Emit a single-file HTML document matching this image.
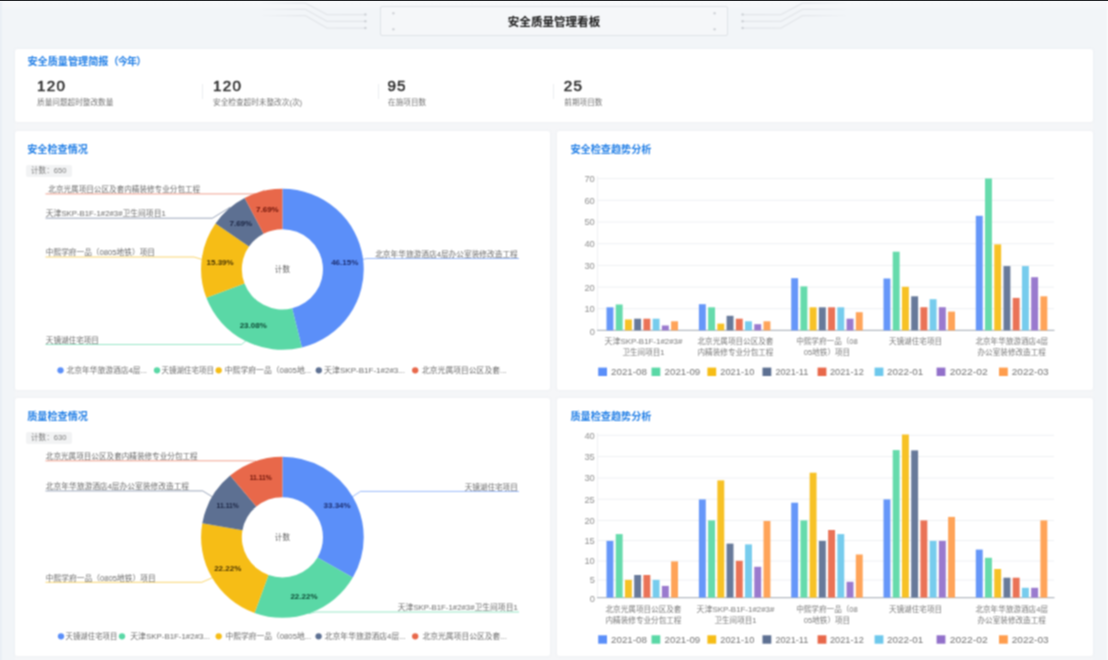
<!DOCTYPE html>
<html lang="zh-CN"><head><meta charset="utf-8"><title>安全质量管理看板</title>
<style>
*{box-sizing:border-box;margin:0;padding:0}
html,body{width:1108px;height:660px;overflow:hidden}
body{position:relative;background:#f2f5f8;font-family:"Liberation Sans", "Noto Sans CJK SC", sans-serif;color:#262626}
.soft{position:absolute;left:0;top:0;width:1108px;height:660px;background:#f2f5f8;overflow:hidden;filter:url(#soften)}
.hdr{position:absolute;left:0;top:0;width:1108px;height:48px;background:linear-gradient(#f6f8fa 0,#f5f7f9 7px,#f2f5f8 9px)}
.topbar{position:absolute;left:0;top:0;width:1108px;height:2.4px;background:linear-gradient(#1f2123 0,#2a2c2f .95px,#f7f8fa 1.5px,#f7f8fa 2.4px)}
.edge-l{position:absolute;left:0;top:2px;width:1.5px;height:658px;background:#eaeff5}
.edge-r{position:absolute;left:1106.6px;top:2px;width:1.4px;height:658px;background:#fafbfc}
.titlebox{position:absolute;left:379.6px;top:5.6px;width:348.8px;height:30.4px;border:1.3px solid #dfe3e7;border-radius:2px;background:#f5f7f9}
.title{position:absolute;left:380px;top:6px;width:348px;height:30px;line-height:32.4px;text-align:center;font-size:11.55px;font-weight:700;color:#1a1a1a}
.wrap{position:absolute;left:14.5px;top:52px;width:1078.5px;height:608px;background:#f5f6f8}
.card{position:absolute;background:#fff;border-radius:2.5px;box-shadow:0 0 2.5px rgba(190,198,210,.22)}
.h{position:absolute;font-size:10.15px;font-weight:700;color:#227fe6;line-height:12px;white-space:nowrap}
.num{position:absolute;font-size:15.2px;font-weight:400;-webkit-text-stroke:.5px #2b2b2b;color:#2b2b2b;line-height:16px;letter-spacing:1.25px;white-space:nowrap}
.lab{position:absolute;font-size:7.65px;color:#757575;line-height:10px;white-space:nowrap}
.div{position:absolute;width:1px;height:15px;top:84px;background:#ebedf0}
.badge{position:absolute;height:12px;line-height:12px;padding:0 0 0 4.6px;width:46px;background:#f2f3f4;border-radius:2px;font-size:7.6px;color:#7d7d7d;white-space:nowrap}
svg{position:absolute;left:0;top:0}
svg text{font-family:"Liberation Sans", "Noto Sans CJK SC", sans-serif}
</style></head><body>
<svg width="0" height="0" style="position:absolute"><defs><filter id="soften" x="0" y="0" width="100%" height="100%" color-interpolation-filters="sRGB"><feConvolveMatrix order="3" kernelMatrix="1 2.0 1 2.0 4.0 2.0 1 2.0 1" edgeMode="duplicate" preserveAlpha="false"/></filter></defs></svg>
<div class="soft">
<div class="hdr"></div><div class="edge-l"></div><div class="edge-r"></div>
<div class="titlebox"></div><div class="title">安全质量管理看板</div>

<div class="wrap"></div>
<div class="card" style="left:14.5px;top:49px;width:1078.5px;height:73px"></div>
<div class="h" style="left:27.4px;top:56px">安全质量管理简报<span style="letter-spacing:-0.85px">（今年）</span></div>
<div class="num" style="left:37px;top:78.4px">120</div><div class="lab" style="left:37px;top:98px">质量问题超时整改数量</div>
<div class="div" style="left:202px"></div>
<div class="num" style="left:213px;top:78.4px">120</div><div class="lab" style="left:213px;top:98px">安全检查超时未整改次(次)</div>
<div class="div" style="left:377.5px"></div>
<div class="num" style="left:387.4px;top:78.4px">95</div><div class="lab" style="left:388px;top:98px">在施项目数</div>
<div class="div" style="left:552.6px"></div>
<div class="num" style="left:563.8px;top:78.4px">25</div><div class="lab" style="left:564.3px;top:98px">前期项目数</div>

<div class="card" style="left:14.5px;top:131px;width:535px;height:259px"></div>
<div class="card" style="left:557px;top:131px;width:536px;height:259px"></div>
<div class="card" style="left:14.5px;top:398px;width:535px;height:258px"></div>
<div class="card" style="left:557px;top:398px;width:536px;height:258px"></div>

<div class="h" style="left:27.2px;top:143.5px">安全检查情况</div>
<div class="badge" style="left:26.4px;top:164.8px">计数：650</div>
<div class="h" style="left:570.4px;top:144.4px">安全检查趋势分析</div>
<div class="h" style="left:27.2px;top:410.5px">质量检查情况</div>
<div class="badge" style="left:26.4px;top:431.8px">计数：630</div>
<div class="h" style="left:570.4px;top:411px">质量检查趋势分析</div>

<svg width="1108" height="660" viewBox="0 0 1108 660">
<path d="M361.3 259.7L367.0 258.5H519" fill="none" stroke="#5b8ff9" stroke-width="1" opacity="0.62"/>
<path d="M45.5 344.5H241.5L246.3 340.5" fill="none" stroke="#5ad8a6" stroke-width="1" opacity="0.62"/>
<path d="M45.5 257H194.0L203.5 259.9" fill="none" stroke="#f6bd16" stroke-width="1" opacity="0.62"/>
<path d="M45.5 218.2H212.4L230.2 207.2" fill="none" stroke="#5d7092" stroke-width="1" opacity="0.62"/>
<path d="M45.5 193.9H257.0L264.5 190.2" fill="none" stroke="#e8684a" stroke-width="1" opacity="0.62"/>
<g transform="translate(282.4 269.3) scale(1.004 0.994) translate(-282.4 -269.3)"><path d="M282.40 188.30A81 81 0 0 1 301.80 347.94L292.08 308.52A40.4 40.4 0 0 0 282.40 228.90Z" fill="#5b8ff9"/>
<path d="M301.80 347.94A81 81 0 0 1 206.67 298.03L244.63 283.63A40.4 40.4 0 0 0 292.08 308.52Z" fill="#5ad8a6"/>
<path d="M206.67 298.03A81 81 0 0 1 215.75 223.27L249.16 246.34A40.4 40.4 0 0 0 244.63 283.63Z" fill="#f6bd16"/>
<path d="M215.75 223.27A81 81 0 0 1 244.77 197.57L263.63 233.52A40.4 40.4 0 0 0 249.16 246.34Z" fill="#5d7092"/>
<path d="M244.77 197.57A81 81 0 0 1 282.40 188.30L282.40 228.90A40.4 40.4 0 0 0 263.63 233.52Z" fill="#e8684a"/></g>
<text x="344.7" y="265.0" text-anchor="middle" font-size="8" font-weight="700" fill="#1c2f73">46.15%</text>
<text x="253.2" y="328.2" text-anchor="middle" font-size="8" font-weight="700" fill="#0c4a35">23.08%</text>
<text x="220.1" y="265.0" text-anchor="middle" font-size="8" font-weight="700" fill="#4a3503">15.39%</text>
<text x="240.8" y="225.6" text-anchor="middle" font-size="8" font-weight="700" fill="#1a2442">7.69%</text>
<text x="267.4" y="211.6" text-anchor="middle" font-size="8" font-weight="700" fill="#6e1409">7.69%</text>
<text x="282.4" y="272.1" text-anchor="middle" font-size="7.6" fill="#666">计数</text>
<text x="517.8" y="256.7" text-anchor="end" font-size="7.6" fill="#6a6a6a" textLength="142.6" lengthAdjust="spacingAndGlyphs">北京年华旅游酒店4层办公室装修改造工程</text>
<text x="45.8" y="342.7" font-size="7.6" fill="#6a6a6a">天镜湖住宅项目</text>
<text x="45.8" y="255.2" font-size="7.6" fill="#6a6a6a" textLength="109.2" lengthAdjust="spacingAndGlyphs">中熙学府一品（0805地铁）项目</text>
<text x="45.8" y="216.39999999999998" font-size="7.6" fill="#6a6a6a" textLength="120" lengthAdjust="spacingAndGlyphs">天津SKP-B1F-1#2#3#卫生间项目1</text>
<text x="48.3" y="192.1" font-size="7.6" fill="#6a6a6a">北京光属项目公区及套内精装修专业分包工程</text>
<circle cx="60.5" cy="370.3" r="3.15" fill="#5b8ff9"/>
<text x="66.4" y="373.1" font-size="7.6" fill="#6a6a6a" textLength="80.6" lengthAdjust="spacingAndGlyphs">北京年华旅游酒店4层...</text>
<circle cx="157" cy="370.3" r="3.15" fill="#5ad8a6"/>
<text x="161.5" y="373.1" font-size="7.6" fill="#6a6a6a" textLength="52.5" lengthAdjust="spacingAndGlyphs">天镜湖住宅项目</text>
<circle cx="218.7" cy="370.3" r="3.15" fill="#f6bd16"/>
<text x="224.8" y="373.1" font-size="7.6" fill="#6a6a6a" textLength="86.5" lengthAdjust="spacingAndGlyphs">中熙学府一品（0805地...</text>
<circle cx="318.8" cy="370.3" r="3.15" fill="#5d7092"/>
<text x="324" y="373.1" font-size="7.6" fill="#6a6a6a" textLength="81" lengthAdjust="spacingAndGlyphs">天津SKP-B1F-1#2#3...</text>
<circle cx="415.2" cy="370.3" r="3.15" fill="#e8684a"/>
<text x="422" y="373.1" font-size="7.6" fill="#6a6a6a" textLength="84.5" lengthAdjust="spacingAndGlyphs">北京光属项目公区及套...</text>
<path d="M351.1 497.6L360.5 491.4H519" fill="none" stroke="#5b8ff9" stroke-width="1" opacity="0.62"/>
<path d="M308.6 613.6L316.0 612H519" fill="none" stroke="#5ad8a6" stroke-width="1" opacity="0.62"/>
<path d="M45.5 582.3H201.8L213.7 577.1" fill="none" stroke="#f6bd16" stroke-width="1" opacity="0.62"/>
<path d="M45.5 490.9H202.7L213.8 497.7" fill="none" stroke="#5d7092" stroke-width="1" opacity="0.62"/>
<path d="M45.5 460.8H250.0L256.2 461.2" fill="none" stroke="#e8684a" stroke-width="1" opacity="0.62"/>
<g transform="translate(282.4 537.3) scale(1.004 0.994) translate(-282.4 -537.3)"><path d="M282.40 456.30A81 81 0 0 1 352.53 577.83L317.38 557.51A40.4 40.4 0 0 0 282.40 496.90Z" fill="#5b8ff9"/>
<path d="M352.53 577.83A81 81 0 0 1 254.68 613.41L268.57 575.26A40.4 40.4 0 0 0 317.38 557.51Z" fill="#5ad8a6"/>
<path d="M254.68 613.41A81 81 0 0 1 202.63 523.22L242.61 530.28A40.4 40.4 0 0 0 268.57 575.26Z" fill="#f6bd16"/>
<path d="M202.63 523.22A81 81 0 0 1 230.34 475.25L256.43 506.35A40.4 40.4 0 0 0 242.61 530.28Z" fill="#5d7092"/>
<path d="M230.34 475.25A81 81 0 0 1 282.40 456.30L282.40 496.90A40.4 40.4 0 0 0 256.43 506.35Z" fill="#e8684a"/></g>
<text x="337.1" y="507.7" text-anchor="middle" font-size="8" font-weight="700" fill="#1c2f73">33.34%</text>
<text x="304.0" y="598.7" text-anchor="middle" font-size="8" font-weight="700" fill="#0c4a35">22.22%</text>
<text x="227.7" y="570.9" text-anchor="middle" font-size="8" font-weight="700" fill="#4a3503">22.22%</text>
<text x="227.7" y="507.7" text-anchor="middle" font-size="8" font-weight="700" fill="#1a2442" textLength="22.2" lengthAdjust="spacingAndGlyphs">11.11%</text>
<text x="260.8" y="479.9" text-anchor="middle" font-size="8" font-weight="700" fill="#6e1409" textLength="22.2" lengthAdjust="spacingAndGlyphs">11.11%</text>
<text x="282.4" y="540.0999999999999" text-anchor="middle" font-size="7.6" fill="#666">计数</text>
<text x="517.8" y="489.59999999999997" text-anchor="end" font-size="7.6" fill="#6a6a6a">天镜湖住宅项目</text>
<text x="517.8" y="610.2" text-anchor="end" font-size="7.6" fill="#6a6a6a" textLength="120" lengthAdjust="spacingAndGlyphs">天津SKP-B1F-1#2#3#卫生间项目1</text>
<text x="45.8" y="580.5" font-size="7.6" fill="#6a6a6a" textLength="110" lengthAdjust="spacingAndGlyphs">中熙学府一品（0805地铁）项目</text>
<text x="45.8" y="489.09999999999997" font-size="7.6" fill="#6a6a6a" textLength="143.3" lengthAdjust="spacingAndGlyphs">北京年华旅游酒店4层办公室装修改造工程</text>
<text x="45.8" y="459.0" font-size="7.6" fill="#6a6a6a">北京光属项目公区及套内精装修专业分包工程</text>
<circle cx="61" cy="636.3" r="3.15" fill="#5b8ff9"/>
<text x="65.6" y="639.0999999999999" font-size="7.6" fill="#6a6a6a" textLength="51.7" lengthAdjust="spacingAndGlyphs">天镜湖住宅项目</text>
<circle cx="122" cy="636.3" r="3.15" fill="#5ad8a6"/>
<text x="130.2" y="639.0999999999999" font-size="7.6" fill="#6a6a6a" textLength="79.8" lengthAdjust="spacingAndGlyphs">天津SKP-B1F-1#2#3...</text>
<circle cx="218.7" cy="636.3" r="3.15" fill="#f6bd16"/>
<text x="225.4" y="639.0999999999999" font-size="7.6" fill="#6a6a6a" textLength="85.8" lengthAdjust="spacingAndGlyphs">中熙学府一品（0805地...</text>
<circle cx="318.6" cy="636.3" r="3.15" fill="#5d7092"/>
<text x="324.8" y="639.0999999999999" font-size="7.6" fill="#6a6a6a" textLength="80.9" lengthAdjust="spacingAndGlyphs">北京年华旅游酒店4层...</text>
<circle cx="415.2" cy="636.3" r="3.15" fill="#e8684a"/>
<text x="422.4" y="639.0999999999999" font-size="7.6" fill="#6a6a6a" textLength="84.5" lengthAdjust="spacingAndGlyphs">北京光属项目公区及套...</text>
<line x1="598" x2="1054" y1="178.6" y2="178.6" stroke="#eef0f3" stroke-width="1"/>
<line x1="598" x2="1054" y1="200.3" y2="200.3" stroke="#eef0f3" stroke-width="1"/>
<line x1="598" x2="1054" y1="222" y2="222" stroke="#eef0f3" stroke-width="1"/>
<line x1="598" x2="1054" y1="243.7" y2="243.7" stroke="#eef0f3" stroke-width="1"/>
<line x1="598" x2="1054" y1="265.4" y2="265.4" stroke="#eef0f3" stroke-width="1"/>
<line x1="598" x2="1054" y1="287.1" y2="287.1" stroke="#eef0f3" stroke-width="1"/>
<line x1="598" x2="1054" y1="308.7" y2="308.7" stroke="#eef0f3" stroke-width="1"/>
<text x="594.8" y="182.0" text-anchor="end" font-size="9.3" fill="#8f8f8f">70</text>
<text x="594.8" y="203.70000000000002" text-anchor="end" font-size="9.3" fill="#8f8f8f">60</text>
<text x="594.8" y="225.4" text-anchor="end" font-size="9.3" fill="#8f8f8f">50</text>
<text x="594.8" y="247.1" text-anchor="end" font-size="9.3" fill="#8f8f8f">40</text>
<text x="594.8" y="268.79999999999995" text-anchor="end" font-size="9.3" fill="#8f8f8f">30</text>
<text x="594.8" y="290.5" text-anchor="end" font-size="9.3" fill="#8f8f8f">20</text>
<text x="594.8" y="312.09999999999997" text-anchor="end" font-size="9.3" fill="#8f8f8f">10</text>
<text x="594.8" y="334.8" text-anchor="end" font-size="9.3" fill="#8f8f8f">0</text>
<line x1="597.5" x2="597.5" y1="176" y2="330.4" stroke="#eef0f3" stroke-width="1"/>
<line x1="597" x2="1054.5" y1="330.4" y2="330.4" stroke="#b4bac1" stroke-width="1.2"/>
<rect x="606.50" y="307.3" width="6.9" height="23.1" fill="#6697f9"/>
<rect x="615.73" y="304.5" width="6.9" height="25.9" fill="#66dbac"/>
<rect x="624.96" y="319.5" width="6.9" height="10.9" fill="#f7c226"/>
<rect x="634.19" y="318.7" width="6.9" height="11.7" fill="#687a9a"/>
<rect x="643.42" y="318.7" width="6.9" height="11.7" fill="#ea7357"/>
<rect x="652.65" y="318.7" width="6.9" height="11.7" fill="#77cced"/>
<rect x="661.88" y="325.5" width="6.9" height="4.9" fill="#9a7ace"/>
<rect x="671.11" y="321.3" width="6.9" height="9.1" fill="#ffa459"/>
<rect x="698.90" y="304.2" width="6.9" height="26.2" fill="#6697f9"/>
<rect x="708.13" y="307.3" width="6.9" height="23.1" fill="#66dbac"/>
<rect x="717.36" y="323.6" width="6.9" height="6.8" fill="#f7c226"/>
<rect x="726.59" y="315.8" width="6.9" height="14.6" fill="#687a9a"/>
<rect x="735.82" y="318.7" width="6.9" height="11.7" fill="#ea7357"/>
<rect x="745.05" y="321.3" width="6.9" height="9.1" fill="#77cced"/>
<rect x="754.28" y="324.2" width="6.9" height="6.2" fill="#9a7ace"/>
<rect x="763.51" y="321.3" width="6.9" height="9.1" fill="#ffa459"/>
<rect x="791.20" y="278.2" width="6.9" height="52.2" fill="#6697f9"/>
<rect x="800.43" y="286.4" width="6.9" height="44.0" fill="#66dbac"/>
<rect x="809.66" y="307.3" width="6.9" height="23.1" fill="#f7c226"/>
<rect x="818.89" y="307.3" width="6.9" height="23.1" fill="#687a9a"/>
<rect x="828.12" y="307.3" width="6.9" height="23.1" fill="#ea7357"/>
<rect x="837.35" y="307.3" width="6.9" height="23.1" fill="#77cced"/>
<rect x="846.58" y="318.7" width="6.9" height="11.7" fill="#9a7ace"/>
<rect x="855.81" y="312.2" width="6.9" height="18.2" fill="#ffa459"/>
<rect x="883.50" y="278.5" width="6.9" height="51.9" fill="#6697f9"/>
<rect x="892.73" y="251.7" width="6.9" height="78.7" fill="#66dbac"/>
<rect x="901.96" y="286.8" width="6.9" height="43.6" fill="#f7c226"/>
<rect x="911.19" y="296.3" width="6.9" height="34.1" fill="#687a9a"/>
<rect x="920.42" y="307.2" width="6.9" height="23.2" fill="#ea7357"/>
<rect x="929.65" y="299.2" width="6.9" height="31.2" fill="#77cced"/>
<rect x="938.88" y="307.2" width="6.9" height="23.2" fill="#9a7ace"/>
<rect x="948.11" y="311.6" width="6.9" height="18.8" fill="#ffa459"/>
<rect x="975.80" y="215.8" width="6.9" height="114.6" fill="#6697f9"/>
<rect x="985.03" y="178.5" width="6.9" height="151.9" fill="#66dbac"/>
<rect x="994.26" y="244.4" width="6.9" height="86.0" fill="#f7c226"/>
<rect x="1003.49" y="266.1" width="6.9" height="64.3" fill="#687a9a"/>
<rect x="1012.72" y="297.9" width="6.9" height="32.5" fill="#ea7357"/>
<rect x="1021.95" y="266.1" width="6.9" height="64.3" fill="#77cced"/>
<rect x="1031.18" y="277.2" width="6.9" height="53.2" fill="#9a7ace"/>
<rect x="1040.41" y="296.3" width="6.9" height="34.1" fill="#ffa459"/>
<text x="643.5" y="344.2" text-anchor="middle" font-size="7.6" fill="#787878" textLength="77.8" lengthAdjust="spacingAndGlyphs">天津SKP-B1F-1#2#3#</text>
<text x="643.5" y="355.2" text-anchor="middle" font-size="7.6" fill="#787878">卫生间项目1</text>
<text x="735.5" y="344.2" text-anchor="middle" font-size="7.6" fill="#787878">北京光属项目公区及套</text>
<text x="735.5" y="355.2" text-anchor="middle" font-size="7.6" fill="#787878">内精装修专业分包工程</text>
<text x="827" y="344.2" text-anchor="middle" font-size="7.6" fill="#787878">中熙学府一品（08</text>
<text x="827" y="355.2" text-anchor="middle" font-size="7.6" fill="#787878">05地铁）项目</text>
<text x="915.5" y="344.2" text-anchor="middle" font-size="7.6" fill="#787878">天镜湖住宅项目</text>
<text x="1011.7" y="344.2" text-anchor="middle" font-size="7.6" fill="#787878">北京年华旅游酒店4层</text>
<text x="1011.7" y="355.2" text-anchor="middle" font-size="7.6" fill="#787878">办公室装修改造工程</text>
<rect x="598.2" y="367.6" width="8.8" height="8.4" fill="#5b8ff9"/>
<text x="611" y="375.2" font-size="9.8" fill="#737373" textLength="36" lengthAdjust="spacingAndGlyphs">2021-08</text>
<rect x="651.5" y="367.6" width="8.8" height="8.4" fill="#5ad8a6"/>
<text x="664.6" y="375.2" font-size="9.8" fill="#737373" textLength="35.7" lengthAdjust="spacingAndGlyphs">2021-09</text>
<rect x="707.4" y="367.6" width="8.8" height="8.4" fill="#f6bd16"/>
<text x="720.3" y="375.2" font-size="9.8" fill="#737373" textLength="34" lengthAdjust="spacingAndGlyphs">2021-10</text>
<rect x="762.5" y="367.6" width="8.8" height="8.4" fill="#5d7092"/>
<text x="775.4" y="375.2" font-size="9.8" fill="#737373" textLength="33" lengthAdjust="spacingAndGlyphs">2021-11</text>
<rect x="817.6" y="367.6" width="8.8" height="8.4" fill="#e8684a"/>
<text x="830" y="375.2" font-size="9.8" fill="#737373" textLength="33.8" lengthAdjust="spacingAndGlyphs">2021-12</text>
<rect x="874.6" y="367.6" width="8.8" height="8.4" fill="#6dc8ec"/>
<text x="886.9" y="375.2" font-size="9.8" fill="#737373" textLength="36.3" lengthAdjust="spacingAndGlyphs">2022-01</text>
<rect x="936.6" y="367.6" width="8.8" height="8.4" fill="#9270ca"/>
<text x="949.8" y="375.2" font-size="9.8" fill="#737373" textLength="38" lengthAdjust="spacingAndGlyphs">2022-02</text>
<rect x="999" y="367.6" width="8.8" height="8.4" fill="#ff9d4d"/>
<text x="1011.7" y="375.2" font-size="9.8" fill="#737373" textLength="37" lengthAdjust="spacingAndGlyphs">2022-03</text>
<line x1="598" x2="1054" y1="435.3" y2="435.3" stroke="#eef0f3" stroke-width="1"/>
<line x1="598" x2="1054" y1="456.6" y2="456.6" stroke="#eef0f3" stroke-width="1"/>
<line x1="598" x2="1054" y1="478" y2="478" stroke="#eef0f3" stroke-width="1"/>
<line x1="598" x2="1054" y1="499.2" y2="499.2" stroke="#eef0f3" stroke-width="1"/>
<line x1="598" x2="1054" y1="520.4" y2="520.4" stroke="#eef0f3" stroke-width="1"/>
<line x1="598" x2="1054" y1="540.6" y2="540.6" stroke="#eef0f3" stroke-width="1"/>
<line x1="598" x2="1054" y1="561" y2="561" stroke="#eef0f3" stroke-width="1"/>
<line x1="598" x2="1054" y1="580" y2="580" stroke="#eef0f3" stroke-width="1"/>
<text x="594.8" y="438.7" text-anchor="end" font-size="9.3" fill="#8f8f8f">40</text>
<text x="594.8" y="460.0" text-anchor="end" font-size="9.3" fill="#8f8f8f">35</text>
<text x="594.8" y="481.4" text-anchor="end" font-size="9.3" fill="#8f8f8f">30</text>
<text x="594.8" y="502.59999999999997" text-anchor="end" font-size="9.3" fill="#8f8f8f">25</text>
<text x="594.8" y="523.8" text-anchor="end" font-size="9.3" fill="#8f8f8f">20</text>
<text x="594.8" y="544.0" text-anchor="end" font-size="9.3" fill="#8f8f8f">15</text>
<text x="594.8" y="564.4" text-anchor="end" font-size="9.3" fill="#8f8f8f">10</text>
<text x="594.8" y="583.4" text-anchor="end" font-size="9.3" fill="#8f8f8f">5</text>
<text x="594.8" y="602.3" text-anchor="end" font-size="9.3" fill="#8f8f8f">0</text>
<line x1="597.5" x2="597.5" y1="433" y2="597.6" stroke="#eef0f3" stroke-width="1"/>
<line x1="597" x2="1054.5" y1="597.6" y2="597.6" stroke="#b4bac1" stroke-width="1.2"/>
<rect x="606.50" y="540.9" width="6.9" height="56.7" fill="#6697f9"/>
<rect x="615.73" y="534.1" width="6.9" height="63.5" fill="#66dbac"/>
<rect x="624.96" y="579.9" width="6.9" height="17.7" fill="#f7c226"/>
<rect x="634.19" y="575.0" width="6.9" height="22.6" fill="#687a9a"/>
<rect x="643.42" y="575.0" width="6.9" height="22.6" fill="#ea7357"/>
<rect x="652.65" y="579.9" width="6.9" height="17.7" fill="#77cced"/>
<rect x="661.88" y="585.9" width="6.9" height="11.7" fill="#9a7ace"/>
<rect x="671.11" y="561.4" width="6.9" height="36.2" fill="#ffa459"/>
<rect x="698.90" y="499.4" width="6.9" height="98.2" fill="#6697f9"/>
<rect x="708.13" y="520.4" width="6.9" height="77.2" fill="#66dbac"/>
<rect x="717.36" y="480.4" width="6.9" height="117.2" fill="#f7c226"/>
<rect x="726.59" y="543.6" width="6.9" height="54.0" fill="#687a9a"/>
<rect x="735.82" y="560.8" width="6.9" height="36.8" fill="#ea7357"/>
<rect x="745.05" y="544.4" width="6.9" height="53.2" fill="#77cced"/>
<rect x="754.28" y="566.8" width="6.9" height="30.8" fill="#9a7ace"/>
<rect x="763.51" y="521.0" width="6.9" height="76.6" fill="#ffa459"/>
<rect x="791.20" y="502.7" width="6.9" height="94.9" fill="#6697f9"/>
<rect x="800.43" y="520.4" width="6.9" height="77.2" fill="#66dbac"/>
<rect x="809.66" y="472.7" width="6.9" height="124.9" fill="#f7c226"/>
<rect x="818.89" y="540.9" width="6.9" height="56.7" fill="#687a9a"/>
<rect x="828.12" y="530.0" width="6.9" height="67.6" fill="#ea7357"/>
<rect x="837.35" y="534.1" width="6.9" height="63.5" fill="#77cced"/>
<rect x="846.58" y="581.8" width="6.9" height="15.8" fill="#9a7ace"/>
<rect x="855.81" y="554.5" width="6.9" height="43.1" fill="#ffa459"/>
<rect x="883.50" y="499.4" width="6.9" height="98.2" fill="#6697f9"/>
<rect x="892.73" y="450.1" width="6.9" height="147.5" fill="#66dbac"/>
<rect x="901.96" y="434.5" width="6.9" height="163.1" fill="#f7c226"/>
<rect x="911.19" y="450.4" width="6.9" height="147.2" fill="#687a9a"/>
<rect x="920.42" y="520.4" width="6.9" height="77.2" fill="#ea7357"/>
<rect x="929.65" y="540.9" width="6.9" height="56.7" fill="#77cced"/>
<rect x="938.88" y="540.9" width="6.9" height="56.7" fill="#9a7ace"/>
<rect x="948.11" y="516.9" width="6.9" height="80.7" fill="#ffa459"/>
<rect x="975.80" y="549.6" width="6.9" height="48.0" fill="#6697f9"/>
<rect x="985.03" y="557.8" width="6.9" height="39.8" fill="#66dbac"/>
<rect x="994.26" y="569.0" width="6.9" height="28.6" fill="#f7c226"/>
<rect x="1003.49" y="577.7" width="6.9" height="19.9" fill="#687a9a"/>
<rect x="1012.72" y="577.7" width="6.9" height="19.9" fill="#ea7357"/>
<rect x="1021.95" y="587.8" width="6.9" height="9.8" fill="#77cced"/>
<rect x="1031.18" y="587.8" width="6.9" height="9.8" fill="#9a7ace"/>
<rect x="1040.41" y="520.4" width="6.9" height="77.2" fill="#ffa459"/>
<text x="643.5" y="611.7" text-anchor="middle" font-size="7.6" fill="#787878">北京光属项目公区及套</text>
<text x="643.5" y="622.7" text-anchor="middle" font-size="7.6" fill="#787878">内精装修专业分包工程</text>
<text x="735.5" y="611.7" text-anchor="middle" font-size="7.6" fill="#787878" textLength="77.8" lengthAdjust="spacingAndGlyphs">天津SKP-B1F-1#2#3#</text>
<text x="735.5" y="622.7" text-anchor="middle" font-size="7.6" fill="#787878">卫生间项目1</text>
<text x="827" y="611.7" text-anchor="middle" font-size="7.6" fill="#787878">中熙学府一品（08</text>
<text x="827" y="622.7" text-anchor="middle" font-size="7.6" fill="#787878">05地铁）项目</text>
<text x="915.5" y="611.7" text-anchor="middle" font-size="7.6" fill="#787878">天镜湖住宅项目</text>
<text x="1011.7" y="611.7" text-anchor="middle" font-size="7.6" fill="#787878">北京年华旅游酒店4层</text>
<text x="1011.7" y="622.7" text-anchor="middle" font-size="7.6" fill="#787878">办公室装修改造工程</text>
<rect x="598.2" y="635.3" width="8.8" height="8.4" fill="#5b8ff9"/>
<text x="611" y="642.9" font-size="9.8" fill="#737373" textLength="36" lengthAdjust="spacingAndGlyphs">2021-08</text>
<rect x="651.5" y="635.3" width="8.8" height="8.4" fill="#5ad8a6"/>
<text x="664.6" y="642.9" font-size="9.8" fill="#737373" textLength="35.7" lengthAdjust="spacingAndGlyphs">2021-09</text>
<rect x="707.4" y="635.3" width="8.8" height="8.4" fill="#f6bd16"/>
<text x="720.3" y="642.9" font-size="9.8" fill="#737373" textLength="34" lengthAdjust="spacingAndGlyphs">2021-10</text>
<rect x="762.5" y="635.3" width="8.8" height="8.4" fill="#5d7092"/>
<text x="775.4" y="642.9" font-size="9.8" fill="#737373" textLength="33" lengthAdjust="spacingAndGlyphs">2021-11</text>
<rect x="817.6" y="635.3" width="8.8" height="8.4" fill="#e8684a"/>
<text x="830" y="642.9" font-size="9.8" fill="#737373" textLength="33.8" lengthAdjust="spacingAndGlyphs">2021-12</text>
<rect x="874.6" y="635.3" width="8.8" height="8.4" fill="#6dc8ec"/>
<text x="886.9" y="642.9" font-size="9.8" fill="#737373" textLength="36.3" lengthAdjust="spacingAndGlyphs">2022-01</text>
<rect x="936.6" y="635.3" width="8.8" height="8.4" fill="#9270ca"/>
<text x="949.8" y="642.9" font-size="9.8" fill="#737373" textLength="38" lengthAdjust="spacingAndGlyphs">2022-02</text>
<rect x="999" y="635.3" width="8.8" height="8.4" fill="#ff9d4d"/>
<text x="1011.7" y="642.9" font-size="9.8" fill="#737373" textLength="37" lengthAdjust="spacingAndGlyphs">2022-03</text>
<defs><linearGradient id="fade" gradientUnits="userSpaceOnUse" x1="262" x2="365" y1="0" y2="0"><stop offset="0" stop-color="#e6e9ed" stop-opacity="0.15"/><stop offset="0.35" stop-color="#e4e7eb"/><stop offset="1" stop-color="#e2e5e9"/></linearGradient></defs>
<g><path d="M365 14.5H327L305.5 3.2H262" fill="none" stroke="url(#fade)" stroke-width="1.25"/>
<circle cx="365.4" cy="14.5" r="1.2" fill="#cdd1d6"/>
<path d="M365 21.3H327L305.5 9.4H262" fill="none" stroke="url(#fade)" stroke-width="1.25"/>
<circle cx="365.4" cy="21.3" r="1.2" fill="#cdd1d6"/>
<path d="M365 28H327L305.5 15.6H262" fill="none" stroke="url(#fade)" stroke-width="1.25"/>
<circle cx="365.4" cy="28" r="1.2" fill="#cdd1d6"/></g>
<g transform="translate(1108,0) scale(-1,1)"><path d="M365 14.5H327L305.5 3.2H262" fill="none" stroke="url(#fade)" stroke-width="1.25"/>
<circle cx="365.4" cy="14.5" r="1.2" fill="#cdd1d6"/>
<path d="M365 21.3H327L305.5 9.4H262" fill="none" stroke="url(#fade)" stroke-width="1.25"/>
<circle cx="365.4" cy="21.3" r="1.2" fill="#cdd1d6"/>
<path d="M365 28H327L305.5 15.6H262" fill="none" stroke="url(#fade)" stroke-width="1.25"/>
<circle cx="365.4" cy="28" r="1.2" fill="#cdd1d6"/></g>
<circle cx="393.4" cy="13.3" r="1.2" fill="#d0d3d7"/>
<circle cx="393.4" cy="29.2" r="1.2" fill="#d0d3d7"/>
<circle cx="714.6" cy="13.3" r="1.2" fill="#d0d3d7"/>
<circle cx="714.6" cy="29.2" r="1.2" fill="#d0d3d7"/>
</svg>
</div>
<div class="topbar"></div>
</body></html>
